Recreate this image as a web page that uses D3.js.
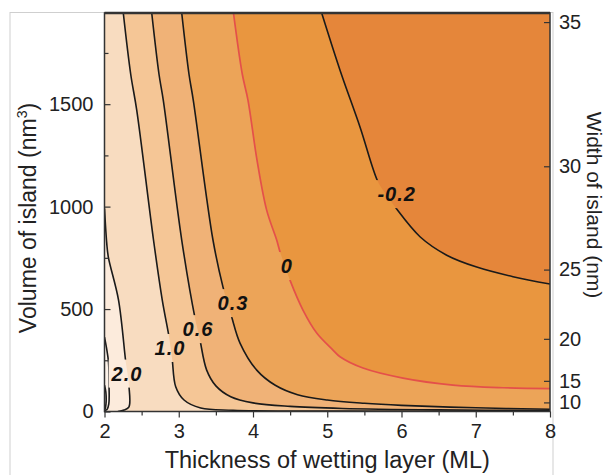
<!DOCTYPE html>
<html>
<head>
<meta charset="utf-8">
<script src="https://cdn.jsdelivr.net/npm/d3@7"></script>
<style>
  body { margin: 0; background: #fff; }
  svg { display: block; font-family: "Liberation Sans", Arial, Helvetica, sans-serif; }
</style>
</head>
<body>
<svg id="contourChart"></svg>
<script>
// 1: DATA
const xTicks = [2, 3, 4, 5, 6, 7, 8];
const xMinorTicks = [2.5, 3.5, 4.5, 5.5, 6.5, 7.5];
const yTicks = [0, 500, 1000, 1500];
const yMinorTicks = [250, 750, 1250, 1750];
const widthTicks = [10, 15, 20, 25, 30, 35];

// contour levels, lowest first
const levels = [-0.2, 0, 0.3, 0.6, 1.0, 2.0, 3.0, 5.0];

// each contour as [thickness (ML), volume (nm^3)] points
const contourM02 = [[4.925, 1945], [5.172, 1666], [5.441, 1389], [5.683, 1121], [5.79, 1061], [5.912, 999],
  [6.249, 853], [6.609, 763], [7.013, 705], [7.502, 658], [8, 622]];
const contour0 = [[3.737, 1945], [3.856, 1646], [3.933, 1519], [4.054, 1227], [4.184, 983], [4.319, 837],
  [4.364, 779], [4.431, 710], [4.498, 641], [4.673, 495], [4.858, 383], [5.077, 300], [5.172, 267],
  [5.481, 212], [6.02, 163], [6.694, 129], [7.367, 116], [8, 112]];
const contour03 = [[3.04, 1945], [3.138, 1646], [3.196, 1519], [3.461, 837], [3.596, 607], [3.657, 529],
  [3.713, 461], [3.825, 334], [4.05, 202], [4.3, 128], [4.6, 82], [5.0, 56], [5.5, 40], [6.0, 30],
  [7.0, 18], [8, 11]];
const contour06 = [[2.636, 1945], [2.734, 1646], [2.792, 1519], [3.04, 837], [3.219, 456], [3.253, 402],
  [3.286, 349], [3.376, 202], [3.5, 125], [3.7, 72], [4.0, 42], [4.5, 25], [5.2, 15], [6.5, 8], [8, 5]];
const contour10 = [[2.253, 1945], [2.353, 1646], [2.434, 1471], [2.66, 837], [2.778, 544], [2.869, 365],
  [2.892, 308], [2.913, 251], [2.959, 121], [3.071, 56], [3.296, 17], [3.731, 6], [5.306, 2.4], [8, 1]];
const contour20 = [[2, 991], [2.03, 822], [2.051, 755], [2.189, 544], [2.286, 243], [2.31, 185],
  [2.33, 121], [2.33, 23], [2.263, 7], [2.18, 0]];
const contour30 = [[2, 363], [2.027, 310], [2.054, 241], [2.061, 129], [2.058, 37], [2.034, 10], [2, 5]];
const contour50 = [[2, 129], [2.018, 95], [2.02, 37], [2.007, 12], [2, 10]];

// contour labels
const labelTexts = ["-0.2", "0", "0.3", "0.6", "1.0", "2.0"];
const labelX = [5.935, 4.454, 3.731, 3.259, 2.882, 2.303];
const labelV = [1061, 710, 529, 402, 310, 185];

// 2: SETTINGS
const W = 609, H = 475;
const margin = { top: 13, right: 59, bottom: 63.5, left: 104.5 };
const width = W - margin.left - margin.right;
const height = H - margin.top - margin.bottom;
const xMin = 2, xMax = 8, vMax = 1945, widthMax = 35.27;   // V = 0.0443 * w^3

const bandColors = ["#e9963f", "#eca458", "#f0b277", "#f5c696", "#f8dcc0", "#fcebdc", "#fdf3ea", "#fef8f3"];
const baseColor = "#e5863a";

const svg = d3.select("#contourChart").attr("width", W).attr("height", H);

// faint outer frame of the figure
svg.append("rect")
  .attr("x", 10).attr("y", 12.5).attr("width", 543).attr("height", 480)
  .attr("fill", "none").attr("stroke", "#cfcfcf").attr("stroke-width", 1);

const g = svg.append("g").attr("transform", `translate(${margin.left},${margin.top})`);

// 3: SCALES
const x = d3.scaleLinear().domain([xMin, xMax]).range([0, width]);
const y = d3.scaleLinear().domain([0, vMax]).range([height, 0]);
const yW = d3.scalePow().exponent(3).domain([0, widthMax]).range([height, 0]);

g.append("clipPath").attr("id", "plotClip")
  .append("rect").attr("width", width).attr("height", height);

// 4: FILLED BANDS
const line = d3.line().x(d => x(d[0])).y(d => y(d[1])).curve(d3.curveCatmullRom.alpha(0.5));

const contours = [contourM02, contour0, contour03, contour06, contour10, contour20, contour30, contour50];

function regionPath(pts) {
  const first = pts[0], last = pts[pts.length - 1];
  let p = line(pts);
  if (first[1] >= vMax) {
    // top edge to right edge: close round bottom-left corner
    p += `L${x(xMax)},${y(0)}L${x(xMin)},${y(0)}L${x(xMin)},${y(vMax)}`;
  } else if (last[1] <= 0) {
    p += `L${x(xMin)},${y(0)}`;
  }
  return p + "Z";
}

const plot = g.append("g").attr("clip-path", "url(#plotClip)");

plot.append("rect").attr("width", width).attr("height", height).attr("fill", baseColor);

plot.selectAll("path.band")
  .data(contours)
  .join("path")
  .attr("class", "band")
  .attr("d", d => regionPath(d))
  .attr("fill", (d, i) => bandColors[i]);

// 5: CONTOUR LINES (broken where the labels sit)
const labels = g.append("g")
  .selectAll("text")
  .data(labelTexts)
  .join("text")
  .attr("x", (d, i) => x(labelX[i]))
  .attr("y", (d, i) => y(labelV[i]))
  .attr("text-anchor", "middle")
  .attr("dominant-baseline", "central")
  .attr("font-size", 20)
  .attr("font-weight", "bold")
  .attr("font-style", "italic")
  .attr("letter-spacing", 1)
  .attr("fill", "#111")
  .text(d => d);

const mask = g.append("mask").attr("id", "labelMask");
mask.append("rect").attr("x", -10).attr("y", -10).attr("width", width + 20).attr("height", height + 20).attr("fill", "white");
labels.each(function () {
  const b = this.getBBox();
  mask.append("rect")
    .attr("x", b.x - 2).attr("y", b.y - 3)
    .attr("width", b.width + 4).attr("height", b.height + 6)
    .attr("fill", "black");
});

const lines = plot.append("g").attr("mask", "url(#labelMask)");
lines.selectAll("path")
  .data(contours)
  .join("path")
  .attr("d", line)
  .attr("fill", "none")
  .attr("stroke", (d, i) => levels[i] === 0 ? "#e4504a" : "#1a1a1a")
  .attr("stroke-width", (d, i) => levels[i] === 0 ? 1.7 : 1.6);

labels.raise();

// 6: AXES
const fontSize = 20;

g.append("g")
  .attr("transform", `translate(0,${height})`)
  .call(d3.axisBottom(x).tickValues(xTicks).tickSize(6).tickSizeOuter(0).tickPadding(6).tickFormat(d3.format("d")));
g.append("g")
  .attr("transform", `translate(0,${height})`)
  .call(d3.axisBottom(x).tickValues(xMinorTicks).tickSize(4).tickSizeOuter(0).tickFormat(""));

g.append("g")
  .call(d3.axisLeft(y).tickValues(yTicks).tickSize(-6).tickSizeOuter(0).tickPadding(11).tickFormat(d3.format("d")));
g.append("g")
  .call(d3.axisLeft(y).tickValues(yMinorTicks).tickSize(-4).tickSizeOuter(0).tickFormat(""));

g.append("g")
  .attr("transform", `translate(${width},0)`)
  .call(d3.axisRight(yW).tickValues(widthTicks).tickSize(-6).tickSizeOuter(0).tickPadding(9).tickFormat(d3.format("d")));

g.selectAll(".domain").remove();
g.selectAll(".tick line").attr("stroke", "#333").attr("stroke-width", 1.2);
g.selectAll(".tick text")
  .attr("font-family", "'Liberation Sans', Arial, sans-serif")
  .attr("font-size", fontSize)
  .attr("fill", "#222");

// plot frame
g.append("rect")
  .attr("width", width).attr("height", height)
  .attr("fill", "none").attr("stroke", "#333").attr("stroke-width", 1.5);
g.append("line")
  .attr("x1", 0).attr("x2", width).attr("y1", 0).attr("y2", 0)
  .attr("stroke", "#333").attr("stroke-width", 2.5);

// 7: AXIS TITLES
svg.append("text")
  .attr("x", margin.left + width / 2)
  .attr("y", 468)
  .attr("text-anchor", "middle")
  .attr("font-size", 23.5)
  .attr("fill", "#222")
  .text("Thickness of wetting layer (ML)");

const yTitle = svg.append("text")
  .attr("transform", "translate(35.5,218) rotate(-90)")
  .attr("text-anchor", "middle")
  .attr("font-size", 23)
  .attr("fill", "#222");
yTitle.append("tspan").text("Volume of island (nm");
yTitle.append("tspan").attr("font-size", 14).attr("dy", -9).text("3");
yTitle.append("tspan").attr("dy", 9).text(")");

svg.append("text")
  .attr("transform", "translate(587,205) rotate(90)")
  .attr("text-anchor", "middle")
  .attr("font-size", 21)
  .attr("fill", "#222")
  .text("Width of island (nm)");
</script>
</body>
</html>
